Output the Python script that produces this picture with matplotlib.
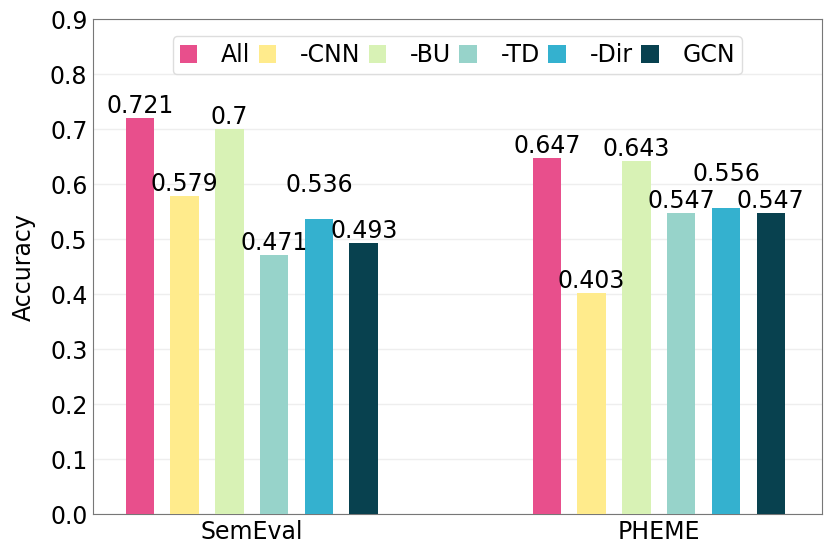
import matplotlib.pyplot as plt
import numpy as np

## data
datasets = ['SemEval', 'PHEME']
variants = ['All', '-CNN', '-BU', '-TD', '-Dir', 'GCN']
semeval_acc = [0.721, 0.579, 0.7, 0.471, 0.536, 0.493]
pheme_acc = [0.647, 0.403, 0.643, 0.547, 0.556, 0.547]
colors = ['#E84F8C', '#FFEB8C', '#D8F2B5', '#97D3CA', '#34B1CF', '#08414F']

acc = np.array([semeval_acc, pheme_acc])
# extra lift (points) for labels that would collide
lift = np.zeros_like(acc)
lift[0, 4] = 16
lift[1, 4] = 16

fig = plt.figure(figsize=(8.3, 5.54), dpi=100)
ax = fig.add_axes([0.112, 0.072, 0.878, 0.893])

x = np.arange(len(datasets))
step = 0.11
width = 0.07
for i, name in enumerate(variants):
    pos = x + (i - 2.5) * step
    ax.bar(pos, acc[:, i], width, color=colors[i], label=name, zorder=3)
    for j in range(len(datasets)):
        ax.annotate(str(acc[j, i]), (pos[j], acc[j, i]), xytext=(0, lift[j, i]),
                    textcoords='offset points', ha='center', va='bottom', fontsize=17, zorder=4)

ax.set_xlim(-0.39, 1.40)
ax.set_ylim(0, 0.9)
ax.set_yticks(np.arange(0, 0.91, 0.1))
ax.set_xticks(x)
ax.set_xticklabels(datasets)
ax.tick_params(axis='both', labelsize=17, length=0, pad=4)
ax.set_ylabel('Accuracy', fontsize=17, labelpad=10)
ax.yaxis.grid(True, color='#eeeeee', linewidth=1, zorder=0)
for s in ax.spines.values():
    s.set_color('#777777')

ax.legend(loc='upper center', ncol=6, fontsize=17, handlelength=0.75, handleheight=0.75,
          handletextpad=1.0, columnspacing=0.35, borderpad=0.3, framealpha=1,
          edgecolor='#dddddd', bbox_to_anchor=(0.5, 0.99))

fig.savefig('out.png')
